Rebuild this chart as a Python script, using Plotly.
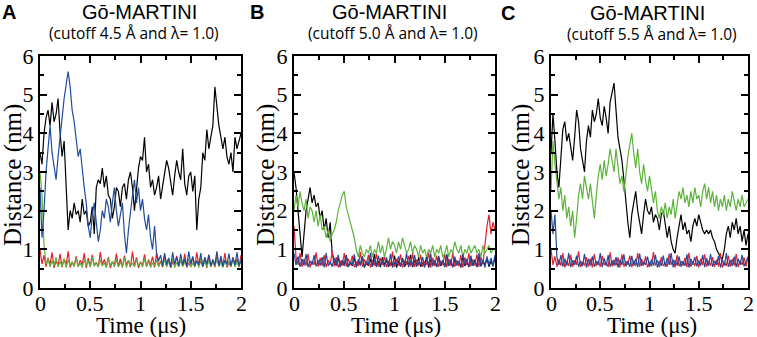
import plotly.graph_objects as go

# time grid (μs), 0.02 μs sampling
TIME = [round(i * 0.02, 2) for i in range(101)]
X_TICKS = [0, 0.5, 1, 1.5, 2]
X_TICK_TEXT = ["0", "0.5", "1", "1.5", "2"]

# ---------------- Panel A (cutoff 4.5 Å) ----------------
A_black = [3.5, 3.2, 4.0, 4.4, 4.6, 4.2, 4.8, 4.3, 4.5, 4.9,
           4.0, 3.4, 3.8, 2.6, 1.5, 2.0, 1.8, 2.2, 1.9, 2.0,
           1.7, 2.3, 1.9, 2.0, 1.6, 1.7, 2.1, 1.4, 2.6, 2.8,
           2.7, 3.1, 2.6, 2.9, 2.4, 2.3, 1.8, 2.1, 2.6, 2.5,
           2.1, 2.6, 2.7, 2.3, 2.8, 3.0, 2.6, 2.0, 2.5, 3.1,
           3.4, 3.3, 3.9, 3.0, 3.2, 2.6, 2.8, 2.4, 2.6, 2.9,
           2.3, 2.6, 2.9, 3.3, 3.1, 2.7, 2.4, 2.9, 3.3, 3.0,
           2.8, 3.6, 2.7, 2.4, 2.9, 3.0, 2.5, 2.9, 1.5, 2.3,
           2.6, 3.5, 3.3, 4.1, 3.6, 3.9, 4.2, 5.2, 4.6, 4.2,
           3.9, 3.6, 3.9, 3.4, 3.2, 3.5, 3.0, 3.9, 3.6, 3.8,
           4.0]
A_red = [1.0, 0.62, 0.85, 0.55, 0.78, 0.6, 0.92, 0.52, 0.7, 0.58,
         0.88, 0.54, 0.75, 0.6, 0.95, 0.53, 0.68, 0.57, 0.82, 0.55,
         0.72, 0.6, 0.9, 0.52, 0.77, 0.56, 0.86, 0.58, 0.66, 0.54,
         0.93, 0.6, 0.74, 0.55, 0.8, 0.52, 0.69, 0.58, 0.89, 0.55,
         0.76, 0.53, 0.84, 0.6, 0.71, 0.54, 0.94, 0.56, 0.79, 0.52,
         0.67, 0.58, 0.87, 0.55, 0.73, 0.6, 0.81, 0.53, 0.9, 0.56,
         0.7, 0.54, 0.85, 0.58, 0.76, 0.52, 0.68, 0.6, 0.83, 0.55,
         0.72, 0.57, 0.88, 0.53, 0.65, 0.56, 0.8, 0.54, 0.92, 0.58,
         0.7, 0.55, 0.78, 0.52, 0.86, 0.57, 0.69, 0.54, 0.82, 0.56,
         0.74, 0.6, 0.9, 0.53, 0.66, 0.55, 0.8, 0.58, 0.75, 0.54,
         0.85]
A_green = [3.0, 2.4, 1.1, 0.62, 0.75, 0.55, 0.7, 0.58, 0.8, 0.54,
           0.68, 0.57, 0.76, 0.53, 0.72, 0.6, 0.66, 0.55, 0.78, 0.56,
           0.64, 0.53, 0.74, 0.58, 0.7, 0.54, 0.8, 0.56, 0.67, 0.55,
           0.73, 0.57, 0.65, 0.53, 0.77, 0.58, 0.69, 0.55, 0.75, 0.54,
           0.66, 0.56, 0.79, 0.53, 0.71, 0.57, 0.64, 0.55, 0.74, 0.58,
           0.68, 0.54, 0.76, 0.56, 0.7, 0.53, 0.65, 0.57, 0.72, 0.55,
           0.67, 0.58, 0.74, 0.54, 0.69, 0.56, 0.78, 0.53, 0.66, 0.57,
           0.73, 0.55, 0.68, 0.58, 0.76, 0.54, 0.65, 0.56, 0.71, 0.53,
           0.77, 0.57, 0.67, 0.55, 0.72, 0.54, 0.69, 0.58, 0.75, 0.56,
           0.66, 0.53, 0.73, 0.57, 0.7, 0.55, 0.78, 0.54, 0.68, 0.56,
           0.72]
A_blue = [2.6, 1.3, 2.0, 3.0, 3.6, 4.2, 3.5, 3.1, 2.8, 3.4,
          4.0, 4.4, 4.9, 5.3, 5.6, 5.2, 4.6, 4.3, 3.8, 3.4,
          3.6, 3.0, 2.6, 2.2, 1.6, 1.3, 1.9, 2.2, 1.7, 1.2,
          1.5, 2.0, 1.8, 2.3, 2.1, 1.7, 2.2, 2.6, 2.0, 1.6,
          1.9, 2.2, 1.4, 0.9, 1.5, 2.0, 2.4, 2.8, 2.2, 2.6,
          2.0, 2.3, 1.8, 1.5, 1.9, 1.3, 1.0, 1.6, 0.9, 0.7,
          0.85, 0.58, 0.9, 0.6, 0.78, 0.55, 0.92, 0.62, 0.8, 0.57,
          0.88, 0.6, 0.75, 0.56, 0.94, 0.63, 0.82, 0.58, 0.7, 0.6,
          0.9, 0.55, 0.8, 0.62, 0.86, 0.57, 0.74, 0.6, 0.95, 0.58,
          0.83, 0.56, 0.72, 0.61, 0.89, 0.57, 0.78, 0.6, 0.92, 0.58,
          0.7]

# ---------------- Panel B (cutoff 5.0 Å) ----------------
B_black = [3.0, 2.6, 2.0, 1.4, 0.8, 1.4, 2.0, 2.3, 2.6, 2.2,
           2.4, 2.1, 2.2, 1.8, 2.0, 1.5, 1.8, 1.3, 1.7, 0.9,
           0.7, 0.58, 0.8, 0.55, 0.72, 0.6, 0.85, 0.54, 0.68, 0.57,
           0.78, 0.55, 0.7, 0.6, 0.82, 0.53, 0.66, 0.58, 0.75, 0.55,
           0.88, 0.57, 0.69, 0.54, 0.8, 0.6, 0.72, 0.55, 0.65, 0.58,
           0.84, 0.53, 0.7, 0.57, 0.77, 0.55, 0.68, 0.6, 0.86, 0.54,
           0.71, 0.58, 0.79, 0.55, 0.66, 0.57, 0.83, 0.53, 0.74, 0.6,
           0.69, 0.55, 0.8, 0.57, 0.72, 0.54, 0.87, 0.58, 0.67, 0.55,
           0.76, 0.6, 0.7, 0.53, 0.82, 0.57, 0.68, 0.55, 0.79, 0.58,
           0.73, 0.54, 0.85, 0.56, 0.69, 0.6, 0.77, 0.55, 0.7, 0.57,
           0.8]
B_red = [1.6, 0.8, 0.6, 0.9, 0.55, 0.75, 0.58, 0.88, 0.53, 0.7,
         0.6, 0.92, 0.55, 0.78, 0.57, 0.85, 0.54, 0.72, 0.6, 0.95,
         0.56, 0.8, 0.53, 0.7, 0.58, 0.9, 0.55, 0.76, 0.6, 0.84,
         0.54, 0.68, 0.57, 0.93, 0.55, 0.74, 0.6, 0.86, 0.53, 0.72,
         0.58, 0.89, 0.55, 0.77, 0.6, 0.82, 0.54, 0.7, 0.57, 0.94,
         0.55, 0.75, 0.58, 0.87, 0.53, 0.71, 0.6, 0.83, 0.56, 0.9,
         0.54, 0.73, 0.58, 0.86, 0.55, 0.69, 0.6, 0.92, 0.53, 0.78,
         0.57, 0.84, 0.55, 0.7, 0.6, 0.88, 0.54, 0.76, 0.58, 0.91,
         0.55, 0.72, 0.57, 0.85, 0.53, 0.79, 0.6, 0.9, 0.56, 0.74,
         0.58, 0.87, 0.55, 0.8, 0.62, 1.2, 1.6, 1.9, 1.4, 1.7,
         1.5]
B_green = [2.0, 2.4, 2.1, 2.5, 2.2, 2.0, 2.3, 1.8, 2.1, 2.0,
           1.7, 2.0, 1.6, 1.9, 1.5, 1.6, 1.3, 1.5, 1.2, 1.4,
           1.5, 1.7, 2.0, 2.2, 2.4, 2.5, 2.1, 1.9, 1.7, 1.5,
           1.3, 1.0, 0.8, 1.1, 0.9, 0.8, 1.0, 0.9, 1.1, 0.8,
           1.0, 0.9, 1.2, 0.9, 1.1, 0.8, 1.0, 1.3, 1.0, 1.2,
           1.1, 0.9, 1.2, 1.0, 1.3, 1.1, 0.9, 1.0, 1.2, 0.9,
           1.1, 1.0, 0.8, 1.1, 0.9, 1.0, 0.8, 1.0, 0.9, 1.1,
           0.8, 1.0, 0.9, 1.1, 0.8, 0.9, 1.1, 0.8, 1.0, 0.9,
           1.2, 1.0, 0.9, 1.1, 0.8, 1.0, 0.9, 1.1, 0.9, 1.0,
           1.1, 0.9, 1.0, 0.8, 1.1, 0.9, 1.0, 1.1, 0.9, 1.0,
           1.0]
B_blue = [0.9, 0.6, 0.82, 0.55, 0.75, 0.58, 0.88, 0.54, 0.7, 0.6,
          0.85, 0.56, 0.72, 0.58, 0.8, 0.53, 0.9, 0.57, 0.68, 0.55,
          0.78, 0.6, 0.86, 0.54, 0.71, 0.57, 0.83, 0.55, 0.66, 0.59,
          0.87, 0.53, 0.74, 0.58, 0.8, 0.55, 0.69, 0.6, 0.91, 0.56,
          0.73, 0.54, 0.84, 0.58, 0.7, 0.55, 0.79, 0.57, 0.88, 0.53,
          0.67, 0.6, 0.82, 0.55, 0.75, 0.58, 0.9, 0.54, 0.71, 0.57,
          0.85, 0.55, 0.68, 0.59, 0.8, 0.53, 0.77, 0.58, 0.89, 0.56,
          0.72, 0.54, 0.83, 0.6, 0.7, 0.55, 0.86, 0.57, 0.74, 0.53,
          0.81, 0.58, 0.69, 0.55, 0.88, 0.6, 0.76, 0.54, 0.84, 0.57,
          0.7, 0.55, 0.9, 0.58, 0.73, 0.53, 0.82, 0.6, 0.78, 0.56,
          0.85]

# ---------------- Panel C (cutoff 5.5 Å) ----------------
C_black = [3.5, 4.5, 3.8, 3.0, 2.6, 3.5, 4.1, 4.3, 3.8, 4.0,
           3.6, 3.3, 3.9, 4.6, 4.3, 3.6, 3.3, 3.0, 3.8, 4.2,
           3.9, 4.6, 4.3, 4.5, 4.9, 4.4, 4.2, 4.7, 4.4, 4.0,
           4.8, 5.1, 5.3, 4.6, 3.9, 3.6, 3.3, 2.8, 2.2, 1.7,
           1.3, 1.9, 2.2, 2.5, 2.0, 1.7, 1.4, 1.9, 2.3, 2.0,
           1.9, 2.1, 1.7, 1.9, 1.8, 1.5, 1.9, 2.0, 1.6, 1.3,
           1.6, 1.2, 1.0, 0.9, 1.3, 1.6, 1.9, 1.5, 1.7, 1.4,
           1.5, 1.2, 1.6, 1.8, 1.6, 1.9, 1.7, 1.5, 1.4, 1.5,
           1.4, 1.5, 1.3, 1.2, 1.0, 0.9, 0.8, 0.75, 1.0, 1.4,
           1.6, 1.3, 1.7, 1.5, 1.8, 1.4, 1.6, 1.2, 1.5, 1.1,
           1.4]
C_red = [1.0, 0.6, 0.82, 0.55, 0.74, 0.58, 0.9, 0.53, 0.7, 0.57,
         0.86, 0.55, 0.72, 0.6, 0.95, 0.54, 0.68, 0.58, 0.8, 0.55,
         0.76, 0.53, 0.88, 0.57, 0.7, 0.55, 0.83, 0.6, 0.67, 0.54,
         0.92, 0.56, 0.73, 0.58, 0.79, 0.53, 0.87, 0.55, 0.69, 0.6,
         0.84, 0.54, 0.71, 0.57, 0.9, 0.55, 0.75, 0.58, 0.82, 0.53,
         0.68, 0.56, 0.93, 0.58, 0.72, 0.54, 0.8, 0.57, 0.66, 0.55,
         0.89, 0.6, 0.74, 0.53, 0.85, 0.56, 0.7, 0.58, 0.78, 0.54,
         0.91, 0.55, 0.69, 0.57, 0.83, 0.53, 0.76, 0.6, 0.87, 0.55,
         0.7, 0.58, 0.8, 0.54, 0.73, 0.56, 0.9, 0.53, 0.67, 0.57,
         0.84, 0.55, 0.75, 0.58, 0.88, 0.54, 0.71, 0.6, 0.79, 0.56,
         0.82]
C_green = [2.5, 3.8, 3.2, 2.8, 2.3, 2.6, 2.0, 2.4, 1.8, 2.1,
           1.6, 2.0, 1.3, 1.8, 2.4, 2.7, 2.3, 2.9, 2.6, 2.3,
           2.7, 2.3, 1.8, 2.4, 2.9, 3.2, 2.8, 3.3, 2.9, 3.2,
           3.6, 3.3, 3.0, 3.6, 3.2, 2.7, 2.9, 2.5, 2.9, 3.4,
           3.7, 4.0, 3.5, 3.1, 3.6, 3.0, 2.7, 3.2, 2.8, 2.5,
           2.9, 2.6, 2.2, 2.5, 2.0, 1.8, 2.1, 1.9, 2.2, 1.8,
           2.1, 1.9, 2.3, 1.8, 2.2, 2.5, 2.3, 2.6, 2.2, 2.4,
           2.1, 2.5, 2.2, 2.6, 2.3, 2.4, 2.1, 2.5, 2.7, 2.3,
           2.6, 2.2, 2.5, 2.1, 2.4, 2.0, 2.3, 2.1, 2.4, 2.0,
           2.3, 2.1, 2.5, 2.2, 2.0, 2.3, 2.1, 2.4, 2.1, 2.2,
           2.3]
C_blue = [2.0, 1.4, 1.9, 0.8, 0.6, 0.85, 0.55, 0.76, 0.58, 0.9,
          0.54, 0.72, 0.6, 0.84, 0.55, 0.7, 0.57, 0.88, 0.53, 0.75,
          0.58, 0.82, 0.55, 0.69, 0.6, 0.9, 0.54, 0.77, 0.57, 0.85,
          0.55, 0.71, 0.58, 0.8, 0.53, 0.73, 0.6, 0.87, 0.56, 0.7,
          0.55, 0.83, 0.58, 0.76, 0.54, 0.89, 0.57, 0.68, 0.6, 0.81,
          0.55, 0.74, 0.58, 0.86, 0.53, 0.7, 0.57, 0.84, 0.55, 0.78,
          0.6, 0.9, 0.54, 0.72, 0.58, 0.82, 0.55, 0.69, 0.57, 0.87,
          0.53, 0.75, 0.6, 0.8, 0.56, 0.71, 0.58, 0.85, 0.54, 0.77,
          0.57, 0.88, 0.55, 0.7, 0.6, 0.83, 0.53, 0.74, 0.58, 0.9,
          0.55, 0.72, 0.57, 0.81, 0.54, 0.76, 0.6, 0.86, 0.56, 0.7,
          0.8]

PANELS = [
    ("A", "(cutoff 4.5 Å and λ= 1.0)", [A_black, A_red, A_green, A_blue]),
    ("B", "(cutoff 5.0 Å and λ= 1.0)", [B_black, B_red, B_green, B_blue]),
    ("C", "(cutoff 5.5 Å and λ= 1.0)", [C_black, C_red, C_green, C_blue]),
]
TITLE = "Gō-MARTINI"
COLORS = ["#000000", "#e3202b", "#5db43a", "#1f4c9e"]

W, H = 757, 337
X_DOM = [(40, 241), (294, 495), (551, 748)]
Y_TOP, Y_BOT = 56, 288

SERIF = "Liberation Serif, Times New Roman, Times, serif"
SANS = "Liberation Sans, Arial, Helvetica, sans-serif"
SUBF = "Open Sans, Liberation Sans, sans-serif"

fig = go.Figure()
annotations = []

def px(x):
    return x / W

def py(y):
    return 1 - y / H

letter_pos = [(9, 12), (257, 12), (508, 13)]
title_pos = [(139, 12), (389, 12), (647, 13)]
sub_pos = [(134, 33), (393, 33), (652, 34)]
ylab_pos = [(13, 175), (266, 175), (521, 175)]
xlab_pos = [(141, 325), (396, 325), (652, 325)]

for i, (letter, sub, series) in enumerate(PANELS):
    xa = "x" if i == 0 else f"x{i+1}"
    ya = "y" if i == 0 else f"y{i+1}"
    for ys, col in zip(series, COLORS):
        fig.add_trace(go.Scatter(x=TIME[:len(ys)], y=ys, mode="lines",
                                 line=dict(color=col, width=1.2),
                                 xaxis=xa, yaxis=ya, showlegend=False,
                                 hoverinfo="skip"))
    axcommon = dict(ticks="inside", ticklen=7, tickwidth=1.5, tickcolor="black",
                    showline=True, linewidth=2, linecolor="black", mirror="ticks",
                    showgrid=False, zeroline=False, automargin=False,
                    tickfont=dict(family=SERIF, size=22, color="black"))
    xkey = "xaxis" if i == 0 else f"xaxis{i+1}"
    ykey = "yaxis" if i == 0 else f"yaxis{i+1}"
    fig.update_layout({
        xkey: dict(domain=[px(X_DOM[i][0]), px(X_DOM[i][1])], anchor=ya,
                   range=[0, 2], tick0=0, dtick=0.5, showticklabels=False,
                   minor=dict(dtick=0.25, ticks="inside", ticklen=4,
                              tickcolor="black", tickwidth=1.5, showgrid=False),
                   **axcommon),
        ykey: dict(domain=[py(Y_BOT), py(Y_TOP)], anchor=xa,
                   range=[0, 6], tick0=0, dtick=1,
                   minor=dict(dtick=0.5, ticks="inside", ticklen=4,
                              tickcolor="black", tickwidth=1.5, showgrid=False),
                   **axcommon),
    })
    # x tick labels placed through the x axis scale, tucked under the axis
    for v, t in zip(X_TICKS, X_TICK_TEXT):
        annotations.append(dict(text=t, x=v, xref=xa, y=py(Y_BOT + 2), yref="paper",
                                xanchor="center", yanchor="top", showarrow=False,
                                borderpad=0,
                                font=dict(family=SERIF, size=22, color="black")))
    common = dict(xref="paper", yref="paper", xanchor="center", yanchor="middle", showarrow=False)
    annotations.append(dict(text=f"<b>{letter}</b>", x=px(letter_pos[i][0]), y=py(letter_pos[i][1]),
                            font=dict(family=SANS, size=20, color="black"), **common))
    annotations.append(dict(text=TITLE, x=px(title_pos[i][0]), y=py(title_pos[i][1]),
                            font=dict(family=SANS, size=20, color="black"), **common))
    annotations.append(dict(text=sub, x=px(sub_pos[i][0]), y=py(sub_pos[i][1]),
                            font=dict(family=SUBF, size=15.5, color="black"), **common))
    annotations.append(dict(text="Distance (nm)", x=px(ylab_pos[i][0]), y=py(ylab_pos[i][1]),
                            textangle=-90,
                            font=dict(family=SERIF, size=25, color="black"), **common))
    annotations.append(dict(text="Time (μs)", x=px(xlab_pos[i][0]), y=py(xlab_pos[i][1]),
                            font=dict(family=SERIF, size=23, color="black"), **common))

fig.update_layout(template="none", width=W, height=H,
                  margin=dict(l=0, r=0, t=0, b=0, pad=0, autoexpand=False),
                  paper_bgcolor="white", plot_bgcolor="white",
                  font=dict(family=SERIF, color="black"),
                  annotations=annotations)

fig.write_html("out.html", config={"displayModeBar": False},
               post_script="document.body.style.margin='0';document.body.style.overflow='hidden';")
